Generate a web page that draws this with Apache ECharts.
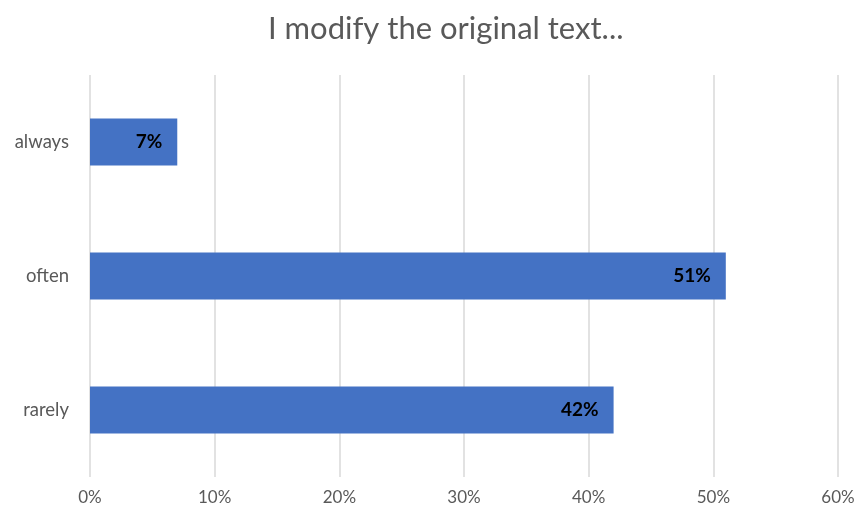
<!DOCTYPE html>
<html><head><meta charset="utf-8">
<script src="https://cdn.jsdelivr.net/npm/echarts@6/dist/echarts.min.js"></script>
<style>html,body{margin:0;padding:0;background:#fff}#c{width:858px;height:511px}</style>
</head><body><div id="c"></div>
<script>
var title = "I modify the original text...";
var categories = ["rarely", "often", "always"];
var values = [42, 51, 7];
var xTicks = [0, 10, 20, 30, 40, 50, 60];

var chart = echarts.init(document.getElementById('c'), null, {renderer: 'canvas'});
var font = "Lato, 'Open Sans', sans-serif";
chart.setOption({
  animation: false,
  title: {text: title, left: 263, top: 8,
    textStyle: {fontFamily: font, fontSize: 31, fontWeight: 'normal', color: '#595959'}},
  grid: {left: 90, right: 20, top: 75, bottom: 34, containLabel: false},
  xAxis: {type: 'value', min: xTicks[0], max: xTicks[xTicks.length-1], interval: 10,
    axisLine: {show: false}, axisTick: {show: false},
    axisLabel: {formatter: '{value}%', color: '#595959', fontFamily: font, fontSize: 17, margin: 12},
    splitLine: {show: true, lineStyle: {color: '#d9d9d9', width: 1.5}}},
  yAxis: {type: 'category', data: categories,
    axisLine: {show: false}, axisTick: {show: false},
    axisLabel: {color: '#595959', fontFamily: font, fontSize: 18.5, margin: 21}},
  series: [{type: 'bar', data: values, barWidth: 47,
    itemStyle: {color: '#4472C4'},
    label: {show: true, position: 'insideRight', distance: 15, formatter: '{c}%',
      color: '#000', fontWeight: 'bold', fontFamily: font, fontSize: 19}}]
});
</script></body></html>
